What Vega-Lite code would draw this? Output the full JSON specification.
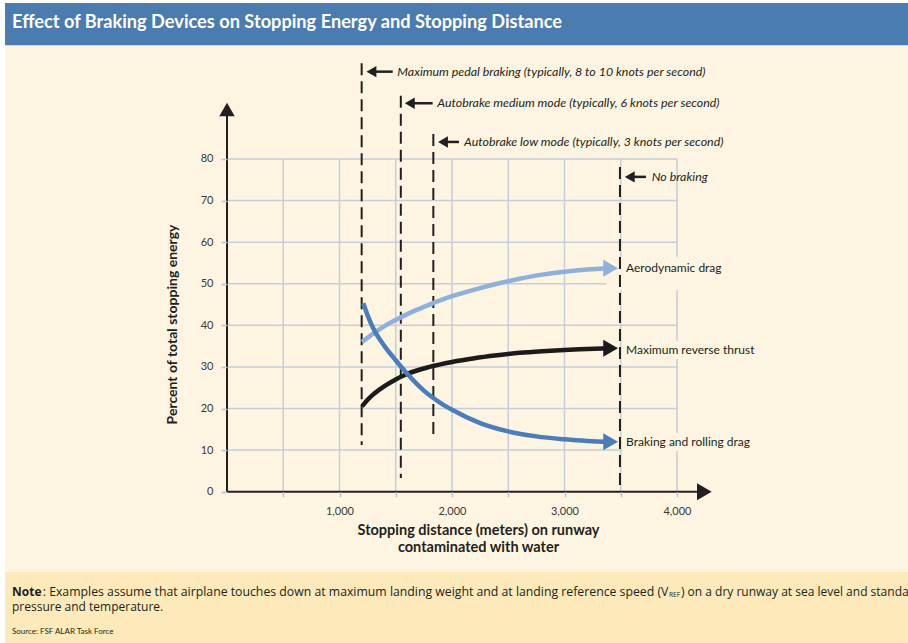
{
  "$schema": "https://vega.github.io/schema/vega-lite/v6.json",
  "width": 908,
  "height": 643,
  "autosize": {"type": "none"},
  "padding": 0,
  "background": "#ffffff",
  "config": {"view": {"stroke": null}, "font": "Lato"},
  "datasets": {
    "grid": [
      {"x": 500, "x2": 500, "y": 0, "y2": 80},
      {"x": 1000, "x2": 1000, "y": 0, "y2": 80},
      {"x": 1500, "x2": 1500, "y": 0, "y2": 80},
      {"x": 2000, "x2": 2000, "y": 0, "y2": 80},
      {"x": 2500, "x2": 2500, "y": 0, "y2": 80},
      {"x": 3000, "x2": 3000, "y": 0, "y2": 80},
      {"x": 3500, "x2": 3500, "y": 0, "y2": 80},
      {"x": 4000, "x2": 4000, "y": 0, "y2": 80},
      {"x": 0, "x2": 4000, "y": 10, "y2": 10},
      {"x": 0, "x2": 4000, "y": 20, "y2": 20},
      {"x": 0, "x2": 4000, "y": 30, "y2": 30},
      {"x": 0, "x2": 4000, "y": 40, "y2": 40},
      {"x": 0, "x2": 4000, "y": 50, "y2": 50},
      {"x": 0, "x2": 4000, "y": 60, "y2": 60},
      {"x": 0, "x2": 4000, "y": 70, "y2": 70},
      {"x": 0, "x2": 4000, "y": 80, "y2": 80}
    ],
    "labelBoxes": [
      {"x": 3369, "x2": 4738, "y": 56.4, "y2": 48.5},
      {"x": 3511, "x2": 4738, "y": 36.2, "y2": 31.9},
      {"x": 3511, "x2": 4738, "y": 14.1, "y2": 9.8}
    ],
    "axisLines": [
      {"x": 0, "x2": 4243, "y": 0, "y2": 0},
      {"x": 0, "x2": 0, "y": 0, "y2": 91.9}
    ],
    "brakes": [
      {"device": "Maximum pedal braking", "x": 1197, "y": 103, "y2": 11.2},
      {"device": "Autobrake medium mode", "x": 1545, "y": 95.2, "y2": 3.3},
      {"device": "Autobrake low mode", "x": 1834, "y": 86, "y2": 13.2},
      {"device": "No braking", "x": 3493, "y": 78.1, "y2": 0}
    ],
    "notes": [
      {"text": "Maximum pedal braking (typically, 8 to 10 knots per second)", "head": 1284, "x": 1284, "x2": 1473, "y": 101, "tx": 1514},
      {"text": "Autobrake medium mode (typically, 6 knots per second)", "head": 1625, "x": 1625, "x2": 1828, "y": 93.4, "tx": 1869},
      {"text": "Autobrake low mode (typically, 3 knots per second)", "head": 1920, "x": 1920, "x2": 2062, "y": 84.1, "tx": 2107},
      {"text": "No braking", "head": 3580, "x": 3580, "x2": 3724, "y": 75.7, "tx": 3775}
    ],
    "curves": [
      {"series": "Aerodynamic drag", "x": 1200, "y": 36},
      {"series": "Aerodynamic drag", "x": 1300, "y": 38},
      {"series": "Aerodynamic drag", "x": 1400, "y": 39.8},
      {"series": "Aerodynamic drag", "x": 1500, "y": 41.3},
      {"series": "Aerodynamic drag", "x": 1650, "y": 43.3},
      {"series": "Aerodynamic drag", "x": 1800, "y": 45},
      {"series": "Aerodynamic drag", "x": 2000, "y": 47},
      {"series": "Aerodynamic drag", "x": 2200, "y": 48.6},
      {"series": "Aerodynamic drag", "x": 2400, "y": 50},
      {"series": "Aerodynamic drag", "x": 2600, "y": 51.2},
      {"series": "Aerodynamic drag", "x": 2800, "y": 52.2},
      {"series": "Aerodynamic drag", "x": 3000, "y": 52.9},
      {"series": "Aerodynamic drag", "x": 3200, "y": 53.4},
      {"series": "Aerodynamic drag", "x": 3400, "y": 53.7},
      {"series": "Maximum reverse thrust", "x": 1200, "y": 20.5},
      {"series": "Maximum reverse thrust", "x": 1250, "y": 22.1},
      {"series": "Maximum reverse thrust", "x": 1300, "y": 23.4},
      {"series": "Maximum reverse thrust", "x": 1400, "y": 25.4},
      {"series": "Maximum reverse thrust", "x": 1500, "y": 27},
      {"series": "Maximum reverse thrust", "x": 1600, "y": 28.3},
      {"series": "Maximum reverse thrust", "x": 1800, "y": 30},
      {"series": "Maximum reverse thrust", "x": 2000, "y": 31.2},
      {"series": "Maximum reverse thrust", "x": 2200, "y": 32.1},
      {"series": "Maximum reverse thrust", "x": 2400, "y": 32.8},
      {"series": "Maximum reverse thrust", "x": 2600, "y": 33.4},
      {"series": "Maximum reverse thrust", "x": 2800, "y": 33.8},
      {"series": "Maximum reverse thrust", "x": 3000, "y": 34.1},
      {"series": "Maximum reverse thrust", "x": 3200, "y": 34.3},
      {"series": "Maximum reverse thrust", "x": 3400, "y": 34.5},
      {"series": "Braking and rolling drag", "x": 1212, "y": 45.3},
      {"series": "Braking and rolling drag", "x": 1250, "y": 42.4},
      {"series": "Braking and rolling drag", "x": 1300, "y": 39.3},
      {"series": "Braking and rolling drag", "x": 1400, "y": 35},
      {"series": "Braking and rolling drag", "x": 1500, "y": 31.6},
      {"series": "Braking and rolling drag", "x": 1600, "y": 28.4},
      {"series": "Braking and rolling drag", "x": 1750, "y": 24.3},
      {"series": "Braking and rolling drag", "x": 1900, "y": 21.3},
      {"series": "Braking and rolling drag", "x": 2000, "y": 19.7},
      {"series": "Braking and rolling drag", "x": 2250, "y": 16.5},
      {"series": "Braking and rolling drag", "x": 2500, "y": 14.5},
      {"series": "Braking and rolling drag", "x": 2750, "y": 13.3},
      {"series": "Braking and rolling drag", "x": 3000, "y": 12.6},
      {"series": "Braking and rolling drag", "x": 3200, "y": 12.2},
      {"series": "Braking and rolling drag", "x": 3400, "y": 12}
    ],
    "tips": [
      {"series": "Aerodynamic drag", "x": 3410, "y": 53.7, "lx": 3547, "ly": 53.8},
      {"series": "Maximum reverse thrust", "x": 3410, "y": 34.5, "lx": 3547, "ly": 34.1},
      {"series": "Braking and rolling drag", "x": 3410, "y": 12, "lx": 3547, "ly": 12.0}
    ]
  },
  "encoding": {
    "x": {
      "field": "x",
      "type": "quantitative",
      "scale": {"domain": [-2017.78, 6053.33], "nice": false, "zero": false},
      "axis": {
        "orient": "bottom",
        "offset": -151.3,
        "zindex": 1,
        "values": [500, 1000, 1500, 2000, 2500, 3000, 3500, 4000],
        "labelExpr": "datum.value % 1000 === 0 ? format(datum.value, ',') : ''",
        "domain": false,
        "grid": false,
        "tickSize": 5,
        "tickColor": "#b8c2d1",
        "tickWidth": 1.5,
        "labelFont": "Lato",
        "labelFontSize": 11,
        "labelColor": "#3a3a3a",
        "labelPadding": 9,
        "labelFlush": false,
        "labelOverlap": false,
        "title": ["Stopping distance (meters) on runway", "contaminated with water"],
        "titleFont": "Lato",
        "titleFontSize": 14.5,
        "titleFontWeight": "bold",
        "titleColor": "#231f20",
        "titleX": 478,
        "titleY": 32,
        "titleAlign": "center",
        "titleBaseline": "top",
        "titleLineHeight": 17
      }
    },
    "y": {
      "field": "y",
      "type": "quantitative",
      "scale": {"domain": [-36.38, 118.23], "nice": false, "zero": false},
      "axis": {
        "orient": "left",
        "offset": -227,
        "zindex": 1,
        "values": [0, 10, 20, 30, 40, 50, 60, 70, 80],
        "domain": false,
        "grid": false,
        "tickSize": 6,
        "tickColor": "#b8c2d1",
        "tickWidth": 1.5,
        "labelFont": "Lato",
        "labelFontSize": 11,
        "labelColor": "#3a3a3a",
        "labelPadding": 8,
        "labelOverlap": false,
        "title": "Percent of total stopping energy",
        "titleFont": "Lato",
        "titleFontSize": 14,
        "titleFontWeight": "bold",
        "titleColor": "#231f20",
        "titleX": -55,
        "titleY": 324,
        "titleAngle": -90,
        "titleAlign": "center",
        "titleBaseline": "middle"
      }
    }
  },
  "layer": [
    {
      "data": {"values": [{"x": -1973, "x2": 6053.33, "y": 117.5, "y2": 107.3}]},
      "mark": {"type": "rect", "color": "#4b7cb0"},
      "encoding": {"x2": {"field": "x2"}, "y2": {"field": "y2"}}
    },
    {
      "data": {"values": [{"x": -1973, "x2": 6053.33, "y": 107.3, "y2": -19.23}]},
      "mark": {"type": "rect", "color": "#fdf5e1"},
      "encoding": {"x2": {"field": "x2"}, "y2": {"field": "y2"}}
    },
    {
      "data": {"values": [{"x": -1973, "x2": 6053.33, "y": -19.23, "y2": -36.38}]},
      "mark": {"type": "rect", "color": "#fde9b9"},
      "encoding": {"x2": {"field": "x2"}, "y2": {"field": "y2"}}
    },
    {
      "data": {"name": "grid"},
      "mark": {"type": "rule", "color": "#c5cdda", "strokeWidth": 1.5},
      "encoding": {"x2": {"field": "x2"}, "y2": {"field": "y2"}}
    },
    {
      "data": {"name": "labelBoxes"},
      "mark": {"type": "rect", "color": "#fdf5e1"},
      "encoding": {"x2": {"field": "x2"}, "y2": {"field": "y2"}}
    },
    {
      "data": {"name": "axisLines"},
      "mark": {"type": "rule", "color": "#231f20", "strokeWidth": 2},
      "encoding": {"x2": {"field": "x2"}, "y2": {"field": "y2"}}
    },
    {
      "data": {"values": [{"x": 4243, "y": 0}]},
      "mark": {"type": "point", "shape": "triangle-right", "filled": true, "size": 289, "color": "#231f20", "opacity": 1}
    },
    {
      "data": {"values": [{"x": 0, "y": 91.9}]},
      "mark": {"type": "point", "shape": "triangle-up", "filled": true, "size": 240, "color": "#231f20", "opacity": 1}
    },
    {
      "data": {"name": "brakes"},
      "mark": {"type": "rule", "color": "#231f20", "strokeWidth": 2, "strokeDash": [12, 6]},
      "encoding": {"y2": {"field": "y2"}}
    },
    {
      "data": {"name": "curves"},
      "mark": {"type": "line", "strokeWidth": 4.5, "interpolate": "monotone", "strokeCap": "butt"},
      "encoding": {
        "color": {
          "field": "series",
          "type": "nominal",
          "scale": {"domain": ["Aerodynamic drag", "Maximum reverse thrust", "Braking and rolling drag"], "range": ["#8fb0dc", "#1c1a1a", "#4a7db9"]},
          "legend": null
        }
      }
    },
    {
      "data": {"name": "tips"},
      "mark": {"type": "point", "shape": "triangle-right", "filled": true, "size": 289, "opacity": 1},
      "encoding": {
        "color": {"field": "series", "type": "nominal", "legend": null}
      }
    },
    {
      "data": {"name": "tips"},
      "mark": {"type": "text", "align": "left", "baseline": "middle", "font": "Lato", "fontSize": 12, "color": "#231f20"},
      "encoding": {
        "x": {"field": "lx", "type": "quantitative"},
        "y": {"field": "ly", "type": "quantitative"},
        "text": {"field": "series"}
      }
    },
    {
      "data": {"name": "notes"},
      "mark": {"type": "rule", "color": "#231f20", "strokeWidth": 2.5},
      "encoding": {"x2": {"field": "x2"}}
    },
    {
      "data": {"name": "notes"},
      "mark": {"type": "point", "shape": "triangle-left", "filled": true, "size": 130, "color": "#231f20", "opacity": 1},
      "encoding": {"x": {"field": "head", "type": "quantitative"}}
    },
    {
      "data": {"name": "notes"},
      "mark": {"type": "text", "align": "left", "baseline": "middle", "font": "Lato", "fontSize": 12.4, "fontStyle": "italic", "color": "#231f20"},
      "encoding": {"x": {"field": "tx", "type": "quantitative"}, "text": {"field": "text"}}
    },
    {
      "data": {"values": [{"x": -1911, "y": 112.7, "text": "Effect of Braking Devices on Stopping Energy and Stopping Distance"}]},
      "mark": {"type": "text", "align": "left", "baseline": "middle", "font": "Lato", "fontSize": 18.2, "fontWeight": "bold", "color": "#ffffff"},
      "encoding": {"text": {"field": "text"}}
    },
    {
      "data": {"values": [{"x": -1911, "y": -24.04, "text": "Note"}]},
      "mark": {"type": "text", "align": "left", "baseline": "middle", "font": "Open Sans", "fontSize": 12, "fontWeight": "bold", "color": "#231f20"},
      "encoding": {"text": {"field": "text"}}
    },
    {
      "data": {"values": [
        {"x": -1638, "y": -24.04, "text": ": Examples assume that airplane touches down at maximum landing weight and at landing reference speed (V"}
      ]},
      "mark": {"type": "text", "align": "left", "baseline": "middle", "font": "Open Sans", "fontSize": 12.27, "color": "#231f20"},
      "encoding": {"text": {"field": "text"}}
    },
    {
      "data": {"values": [
        {"x": 4035, "y": -24.04, "text": ") on a dry runway at sea level and standard"},
        {"x": -1911, "y": -27.8, "text": "pressure and temperature."}
      ]},
      "mark": {"type": "text", "align": "left", "baseline": "middle", "font": "Open Sans", "fontSize": 12, "color": "#231f20"},
      "encoding": {"text": {"field": "text"}}
    },
    {
      "data": {"values": [{"x": 3929, "y": -24.9, "text": "REF"}]},
      "mark": {"type": "text", "align": "left", "baseline": "middle", "font": "Open Sans", "fontSize": 6.5, "color": "#231f20"},
      "encoding": {"text": {"field": "text"}}
    },
    {
      "data": {"values": [{"x": -1911, "y": -33.65, "text": "Source: FSF ALAR Task Force"}]},
      "mark": {"type": "text", "align": "left", "baseline": "middle", "font": "Lato", "fontSize": 8, "color": "#231f20"},
      "encoding": {"text": {"field": "text"}}
    }
  ]
}
